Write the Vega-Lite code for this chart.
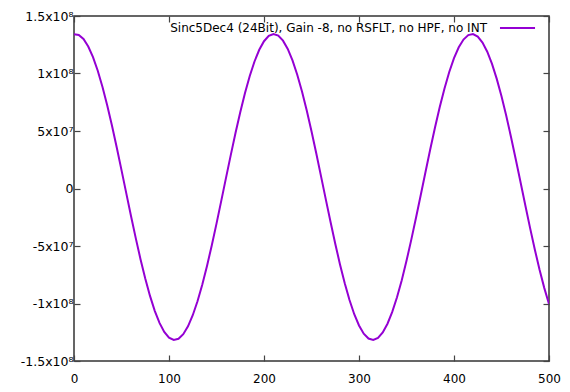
{
  "$schema": "https://vega.github.io/schema/vega-lite/v6.json",
  "autosize": {"type": "none"},
  "width": 475,
  "height": 345,
  "padding": {"left": 74, "top": 16, "right": 21, "bottom": 31},
  "background": "white",
  "config": {
    "view": {"stroke": "#333333", "strokeWidth": 1.5},
    "font": "DejaVu Sans",
    "axis": {
      "domain": false,
      "grid": false,
      "tickColor": "#444444",
      "tickWidth": 1.2,
      "labelFont": "DejaVu Sans",
      "labelFontSize": 12,
      "labelColor": "#000000",
      "title": null
    }
  },
  "datasets": {
    "series": [
      {"x": 0, "y": 134160000}, {"x": 5, "y": 133560000}, {"x": 10, "y": 129970000}, {"x": 15, "y": 123460000},
      {"x": 20, "y": 114200000}, {"x": 25, "y": 102370000}, {"x": 30, "y": 88240000}, {"x": 35, "y": 72200000},
      {"x": 40, "y": 54530000}, {"x": 45, "y": 35640000}, {"x": 50, "y": 15980000}, {"x": 55, "y": -4000000},
      {"x": 60, "y": -23870000}, {"x": 65, "y": -43170000}, {"x": 70, "y": -61460000}, {"x": 75, "y": -78350000},
      {"x": 80, "y": -93410000}, {"x": 85, "y": -106340000}, {"x": 90, "y": -116840000}, {"x": 95, "y": -124670000},
      {"x": 100, "y": -129640000}, {"x": 105, "y": -131660000}, {"x": 110, "y": -130660000}, {"x": 115, "y": -126690000},
      {"x": 120, "y": -119810000}, {"x": 125, "y": -110200000}, {"x": 130, "y": -98070000}, {"x": 135, "y": -83650000},
      {"x": 140, "y": -67380000}, {"x": 145, "y": -49520000}, {"x": 150, "y": -30530000}, {"x": 155, "y": -10800000},
      {"x": 160, "y": 9200000}, {"x": 165, "y": 29020000}, {"x": 170, "y": 48220000}, {"x": 175, "y": 66340000},
      {"x": 180, "y": 83010000}, {"x": 185, "y": 97810000}, {"x": 190, "y": 110450000}, {"x": 195, "y": 120610000},
      {"x": 200, "y": 128080000}, {"x": 205, "y": 132670000}, {"x": 210, "y": 134300000}, {"x": 215, "y": 132910000},
      {"x": 220, "y": 128550000}, {"x": 225, "y": 121320000}, {"x": 230, "y": 111370000}, {"x": 235, "y": 98920000},
      {"x": 240, "y": 84270000}, {"x": 245, "y": 67740000}, {"x": 250, "y": 49720000}, {"x": 255, "y": 30590000},
      {"x": 260, "y": 10800000}, {"x": 265, "y": -9200000}, {"x": 270, "y": -28960000}, {"x": 275, "y": -48040000},
      {"x": 280, "y": -66010000}, {"x": 285, "y": -82420000}, {"x": 290, "y": -97000000}, {"x": 295, "y": -109330000},
      {"x": 300, "y": -119140000}, {"x": 305, "y": -126240000}, {"x": 310, "y": -130450000}, {"x": 315, "y": -131690000},
      {"x": 320, "y": -129910000}, {"x": 325, "y": -125170000}, {"x": 330, "y": -117570000}, {"x": 335, "y": -107300000},
      {"x": 340, "y": -94600000}, {"x": 345, "y": -79740000}, {"x": 350, "y": -62880000}, {"x": 355, "y": -44690000},
      {"x": 360, "y": -25440000}, {"x": 365, "y": -5610000}, {"x": 370, "y": 14390000}, {"x": 375, "y": 34090000},
      {"x": 380, "y": 53050000}, {"x": 385, "y": 70830000}, {"x": 390, "y": 87020000}, {"x": 395, "y": 101330000},
      {"x": 400, "y": 113340000}, {"x": 405, "y": 122820000}, {"x": 410, "y": 129550000}, {"x": 415, "y": 133380000},
      {"x": 420, "y": 134230000}, {"x": 425, "y": 132060000}, {"x": 430, "y": 126950000}, {"x": 435, "y": 118980000},
      {"x": 440, "y": 108370000}, {"x": 445, "y": 95310000}, {"x": 450, "y": 80150000}, {"x": 455, "y": 63180000},
      {"x": 460, "y": 44830000}, {"x": 465, "y": 25500000}, {"x": 470, "y": 5610000}, {"x": 475, "y": -14370000},
      {"x": 480, "y": -34000000}, {"x": 485, "y": -52820000}, {"x": 490, "y": -70450000}, {"x": 495, "y": -86400000},
      {"x": 500, "y": -100420000}
    ]
  },
  "layer": [
    {
      "data": {"name": "series"},
      "mark": {"type": "line", "color": "#9400D3", "strokeWidth": 2, "clip": true},
      "encoding": {
        "x": {
          "field": "x", "type": "quantitative",
          "scale": {"domain": [0, 500], "nice": false, "zero": false},
          "axis": {"orient": "bottom", "values": [0, 100, 200, 300, 400, 500], "tickSize": -6, "labelPadding": 18, "labelFlush": false}
        },
        "y": {
          "field": "y", "type": "quantitative",
          "scale": {"domain": [-150000000, 150000000], "nice": false, "zero": false},
          "axis": {
            "orient": "left",
            "values": [-150000000, -100000000, -50000000, 0, 50000000, 100000000, 150000000],
            "tickSize": -6, "labelPadding": 7, "labelFlush": false, "labelFontSize": 12.5,
            "labelExpr": "(datum.value < 0 ? '-' : '') + (abs(datum.value) == 150000000 ? '1.5x10⁸' : abs(datum.value) == 100000000 ? '1x10⁸' : abs(datum.value) == 50000000 ? '5x10⁷' : '0')"
          }
        }
      }
    },
    {
      "data": {"name": "series"},
      "mark": {"type": "line", "opacity": 0},
      "encoding": {
        "x": {
          "field": "x", "type": "quantitative",
          "axis": {"orient": "top", "values": [0, 100, 200, 300, 400, 500], "tickSize": -6, "labels": false}
        },
        "y": {
          "field": "y", "type": "quantitative",
          "axis": {"orient": "right", "values": [-150000000, -100000000, -50000000, 0, 50000000, 100000000, 150000000], "tickSize": -6, "labels": false}
        }
      }
    },
    {
      "data": {"values": [{"label": "Sinc5Dec4 (24Bit), Gain -8, no RSFLT, no HPF, no INT"}]},
      "mark": {"type": "text", "align": "right", "baseline": "middle", "font": "DejaVu Sans", "fontSize": 12, "color": "#000000"},
      "encoding": {
        "text": {"field": "label"},
        "x": {"datum": 434.7, "type": "quantitative", "axis": null},
        "y": {"datum": 139600000, "type": "quantitative", "axis": null}
      }
    },
    {
      "data": {"values": [{"label": "Sinc5Dec4"}]},
      "mark": {"type": "rule", "color": "#9400D3", "strokeWidth": 2},
      "encoding": {
        "x": {"datum": 448.4, "type": "quantitative", "axis": null},
        "x2": {"datum": 485.3},
        "y": {"datum": 139600000, "type": "quantitative", "axis": null}
      }
    }
  ],
  "resolve": {"axis": {"x": "independent", "y": "independent"}}
}
